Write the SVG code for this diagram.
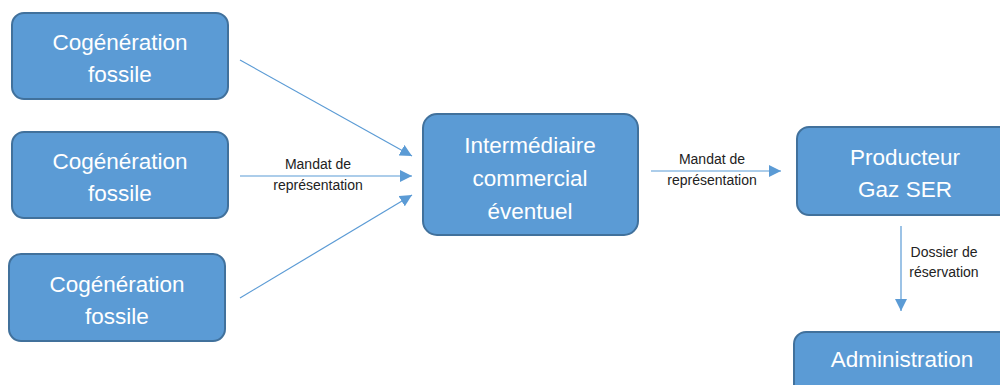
<svg xmlns="http://www.w3.org/2000/svg" width="1000" height="385" viewBox="0 0 1000 385">
<style>
.box{fill:#5b9bd5;stroke:#41719c;stroke-width:2}
.t{fill:#fff;font-family:"Liberation Sans",Arial,sans-serif;font-size:22.5px;text-anchor:middle}
.l{fill:#222;font-family:"Liberation Sans",Arial,sans-serif;font-size:14px;text-anchor:middle}
.c{stroke:#5b9bd5;stroke-width:1.2;fill:none;marker-end:url(#ah)}
</style>
<defs>
<marker id="ah" viewBox="0 0 10 10" refX="10" refY="5" markerWidth="12" markerHeight="12" markerUnits="userSpaceOnUse" orient="auto">
<path d="M0,0 L10,5 L0,10 Z" fill="#5b9bd5"/>
</marker>
</defs>
<rect width="1000" height="385" fill="#fff"/>
<g id="connectors">
<line class="c" x1="240" y1="60" x2="412" y2="156"/>
<line class="c" x1="240" y1="176" x2="412" y2="176"/>
<line class="c" x1="240" y1="298" x2="412" y2="195"/>
<line class="c" x1="651" y1="171" x2="781" y2="171"/>
<line class="c" x1="901" y1="226" x2="901" y2="311"/>
<text class="l" x="318" y="169">Mandat de</text>
<text class="l" x="318" y="190">représentation</text>
<text class="l" x="712" y="164">Mandat de</text>
<text class="l" x="712" y="185">représentation</text>
<text class="l" x="944" y="257">Dossier de</text>
<text class="l" x="944" y="277">réservation</text>
</g>
<g id="n1"><rect class="box" x="12" y="13" width="216" height="86" rx="12"/>
<text class="t" x="120" y="50">Cogénération</text><text class="t" x="120" y="82">fossile</text></g>
<g id="n2"><rect class="box" x="12" y="132" width="216" height="86" rx="12"/>
<text class="t" x="120" y="169">Cogénération</text><text class="t" x="120" y="201">fossile</text></g>
<g id="n3"><rect class="box" x="9" y="254" width="216" height="87" rx="12"/>
<text class="t" x="117" y="292">Cogénération</text><text class="t" x="117" y="324">fossile</text></g>
<g id="n4"><rect class="box" x="423" y="114" width="215" height="121" rx="14"/>
<text class="t" x="530" y="153">Intermédiaire</text><text class="t" x="530" y="186">commercial</text><text class="t" x="530" y="219">éventuel</text></g>
<g id="n5"><rect class="box" x="797" y="127" width="220" height="88" rx="12"/>
<text class="t" x="905" y="165">Producteur</text><text class="t" x="905" y="197">Gaz SER</text></g>
<g id="n6"><rect class="box" x="794" y="332" width="220" height="70" rx="12"/>
<text class="t" x="902" y="367">Administration</text></g>
</svg>
